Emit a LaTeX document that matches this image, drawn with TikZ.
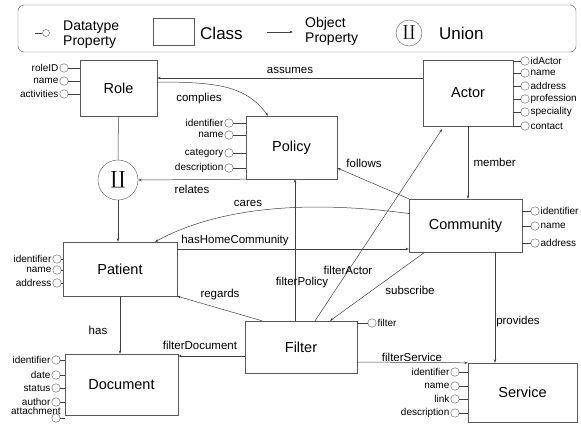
\documentclass[tikz,border=0pt]{standalone}
\usepackage{fontspec}
\setmainfont{Liberation Sans}
\newfontfamily\unionfont{DejaVu Serif}
\usetikzlibrary{arrows.meta,shadows}

\begin{document}
\begin{tikzpicture}[x=1pt,y=-1pt]
\tikzstyle{every node}=[font=\fontsize{11.5}{13}\selectfont]
\tikzstyle{class}=[draw=black!65, fill=white, inner sep=0pt, font=\fontsize{14.5}{16}\selectfont,
  drop shadow={shadow xshift=1.3pt, shadow yshift=-1.3pt, opacity=0.3}]
\tikzstyle{dprop}=[draw=black!65, circle, minimum size=8.5pt, inner sep=0pt]
\tikzstyle{plabel}=[font=\fontsize{10}{11}\selectfont, inner sep=1pt]
\tikzstyle{rel}=[draw=black!75, line width=0.5pt, -{Stealth[length=3.5pt,width=2.5pt]}]
\tikzstyle{link}=[draw=black!75, line width=0.5pt]

\useasboundingbox (0,0) rectangle (581,424);

% legend
\node[draw=black!65, rounded corners=6pt, minimum width=558pt, minimum height=47pt] (legend) at (297,28.5) {};
\node[dprop, minimum size=7pt] (lg-dprop) at (46,33) {};
\coordinate (lg-dprop-end) at (35,33);
\draw[link] (lg-dprop-end) -- (lg-dprop);
\node[anchor=west, align=left, font=\fontsize{14}{15}\selectfont, inner sep=0pt] (lg-dprop-text) at (63,35) {Datatype\\Property};
\node[draw=black!65, minimum width=41pt, minimum height=27pt] (lg-class) at (173.5,31.5) {};
\node[anchor=west, font=\fontsize{17}{19}\selectfont, inner sep=0pt] (lg-class-text) at (200,33) {Class};
\coordinate (lg-oprop-start) at (267,32);
\coordinate (lg-oprop-end) at (293,32);
\draw[rel] (lg-oprop-start) -- (lg-oprop-end);
\node[anchor=west, align=left, font=\fontsize{14}{15}\selectfont, inner sep=0pt] (lg-oprop-text) at (305,31) {Object\\Property};
\node[draw=black!65, circle, minimum size=26pt, inner sep=0pt, font=\unionfont\fontsize{15}{15}\selectfont] (lg-union) at (409,33) {∐};
\node[anchor=west, font=\fontsize{17}{19}\selectfont, inner sep=0pt] (lg-union-text) at (439,33) {Union};

% classes
\node[class, minimum width=77pt, minimum height=56pt] (role) at (118.5,88) {Role};
\node[class, minimum width=91pt, minimum height=63pt] (policy) at (291.5,147.5) {Policy};
\node[class, minimum width=90pt, minimum height=66pt] (actor) at (468,93) {Actor};
\node[class, minimum width=113pt, minimum height=53pt] (community) at (465.5,225.5) {Community};
\node[class, minimum width=114pt, minimum height=54pt] (patient) at (120,269) {Patient};
\node[class, minimum width=113pt, minimum height=61pt] (document) at (121.5,384.5) {Document};
\node[class, minimum width=112pt, minimum height=52pt] (filter) at (301,347) {Filter};
\node[class, minimum width=109pt, minimum height=59pt] (service) at (522.5,392.5) {Service};
\node[draw=black!65, fill=white, circle, minimum size=40pt, inner sep=0pt, font=\unionfont\fontsize{18}{18}\selectfont] (union) at (118,180) {∐};

% datatype properties
\foreach \a/\y in {roleID/68,name/81,activities/94}{
  \node[dprop, label={[plabel]left:\a}] (role-\a) at (64,\y) {};
  \draw[link] (role-\a) -- (role-\a -| role.west);
}
\foreach \a/\y in {identifier/123,name/135,category/153,description/168}{
  \node[dprop, label={[plabel]left:\a}] (policy-\a) at (229,\y) {};
  \draw[link] (policy-\a) -- (policy-\a -| policy.west);
}
\foreach \a/\y in {idActor/61,name/73,address/86,profession/99,speciality/112,contact/126}{
  \node[dprop, label={[plabel]right:\a}] (actor-\a) at (525,\y) {};
  \draw[link] (actor-\a) -- (actor-\a -| actor.east);
}
\foreach \a/\y in {identifier/211,name/226,address/243}{
  \node[dprop, label={[plabel]right:\a}] (community-\a) at (535,\y) {};
  \draw[link] (community-\a) -- (community-\a -| community.east);
}
\foreach \a/\y in {identifier/259,name/270,address/283}{
  \node[dprop, label={[plabel]left:\a}] (patient-\a) at (57,\y) {};
  \draw[link] (patient-\a) -- (patient-\a -| patient.west);
}
\foreach \a/\y in {identifier/360,date/375,status/388,author/402}{
  \node[dprop, label={[plabel]left:\a}] (document-\a) at (56,\y) {};
  \draw[link] (document-\a) -- (document-\a -| document.west);
}
\node[dprop, label={[plabel, xshift=9pt, yshift=-1pt]above left:attachment}] (document-attachment) at (56,418) {};
\draw[link] (document-attachment) -- (document-attachment -| document.west);
\node[dprop, label={[plabel]right:filter}] (filter-filter) at (372,323) {};
\draw[link] (filter-filter) -- (filter-filter -| filter.east);
\foreach \a/\y in {identifier/372,name/386,link/399,description/413}{
  \node[dprop, label={[plabel]left:\a}] (service-\a) at (455,\y) {};
  \draw[link] (service-\a) -- (service-\a -| service.west);
}

% object properties
\draw[rel] ([yshift=15pt]actor.west) -- ([yshift=15pt]actor.west -| role.east) node[midway, above=1pt] {assumes};
\draw[rel] ([yshift=6pt]role.east) .. controls +(60,0) and +(-22,-30) .. ([xshift=-23.5pt]policy.north);
\node (complies) at (199,99) {complies};
\draw[link] (role) -- (union);
\draw[rel] (union.south) -- (union.south |- patient.north);
\draw[rel] (policy.south west) -- (union.east) node[midway, below=2pt] {relates};
\draw[rel] (community.north west) -- ([yshift=-20.5pt]policy.east);
\node (follows) at (364,163) {follows};
\draw[rel] (actor.south) -- (actor.south |- community.north) node[midway, right=2pt] {member};
\draw[rel] ([yshift=12pt]community.west) .. controls +(-90,-12) and +(70,-38) .. ([xshift=35pt]patient.north);
\node (cares) at (248,203) {cares};
\draw[rel] ([yshift=20pt]patient.east) -- ([yshift=20pt]patient.east -| community.west);
\node (hasHomeCommunity) at (235,241) {hasHomeCommunity};
\draw[rel] ([xshift=-6pt]filter.north) -- ([xshift=-6pt]filter.north |- policy.south);
\node (filterPolicy) at (302,283) {filterPolicy};
\draw[rel] ([xshift=14pt]filter.north) -- ([xshift=-26pt,yshift=-3pt]actor.south);
\node (filterActor) at (348,270) {filterActor};
\draw[rel] ([xshift=16pt]community.south west) -- ([xshift=29pt]filter.north);
\node (subscribe) at (410,290) {subscribe};
\draw[rel] ([xshift=-39pt]filter.north) -- (patient.south east);
\node (regards) at (220,295) {regards};
\draw[rel] (patient.south) -- (patient.south |- document.north);
\node (has) at (98,330) {has};
\draw[rel] ([yshift=-9pt]filter.west) -- ([yshift=-9pt]filter.west -| document.east);
\node (filterDocument) at (200,345) {filterDocument};
\draw[rel] ([yshift=-15pt]filter.east) -- (service.north west);
\node (filterService) at (412,357) {filterService};
\draw[rel] ([xshift=29.5pt]community.south) -- ([xshift=29.5pt]community.south |- service.north);
\node (provides) at (518,322) {provides};

\end{tikzpicture}
\end{document}
